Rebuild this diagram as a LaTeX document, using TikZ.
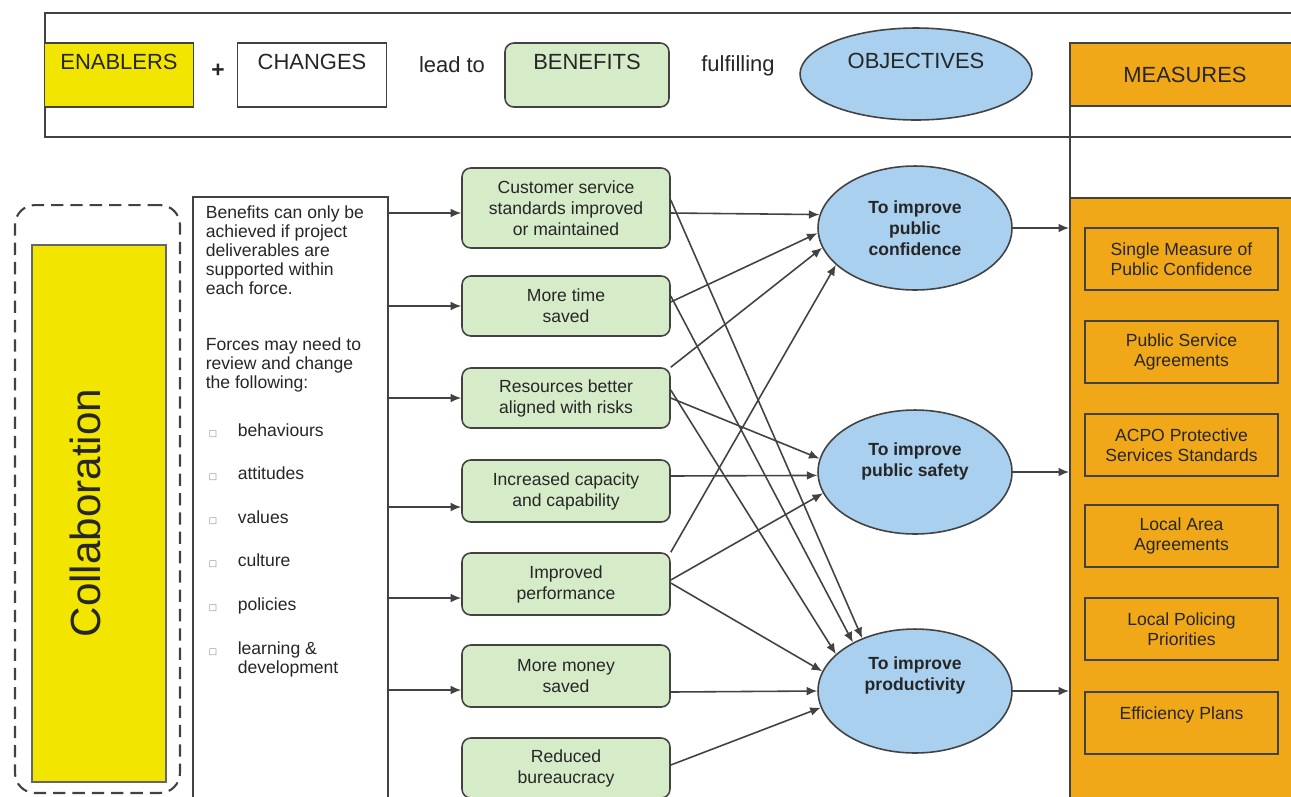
\documentclass[tikz,border=0pt]{standalone}
\usepackage{fontspec}
\setmainfont{Liberation Sans}
\newfontfamily\symfont{DejaVu Sans}
\usepackage{tikz}
\usetikzlibrary{positioning,shapes.geometric,arrows.meta,calc}
\usepackage{xcolor}
\definecolor{enabler}{HTML}{F2E500}
\definecolor{benefit}{HTML}{D6ECC9}
\definecolor{objective}{HTML}{A9D0EE}
\definecolor{measure}{HTML}{F0A818}
\definecolor{edgegrey}{HTML}{424242}
\newcommand{\bul}{\makebox[0.64cm][l]{\hspace*{0.06cm}{\color{gray}\symfont\tiny □}}}

\begin{document}
\begin{tikzpicture}[
    x=0.02cm, y=-0.02cm,
    >={Latex[length=6pt,width=5pt]},
    line width=0.9pt,
    every node/.style={font=\fontsize{10}{12}\selectfont, text=black!85},
    banner/.style={draw=edgegrey, minimum width=2.98cm, minimum height=1.28cm,
        align=center, font=\fontsize{12.5}{15}\selectfont},
    benefit/.style={draw=edgegrey, fill=benefit, rounded corners=5pt,
        minimum width=4.16cm, minimum height=1.2cm, align=center},
    objective/.style={ellipse, draw=edgegrey, fill=objective, inner sep=0pt,
        minimum width=3.88cm, minimum height=2.48cm, align=center,
        font=\fontsize{10}{12}\selectfont\bfseries},
    measure/.style={draw=edgegrey, minimum width=3.86cm, minimum height=1.24cm,
        align=center, font=\fontsize{10}{11.3}\selectfont},
    link/.style={->, color=edgegrey}
]
    \useasboundingbox (0,0) rectangle (1291,796);

    % key along the top
    \node[draw=edgegrey, line width=1.1pt, minimum width=25.1cm, minimum height=2.48cm,
        inner sep=0pt] (key) at (672.5,75) {};
    \node[banner, fill=enabler] (enablers) at (119,75) {ENABLERS\\\mbox{}};
    \node[font=\fontsize{13}{15}\selectfont\bfseries] (plus) at (218,71) {+};
    \node[banner] (changes) at (312,75) {CHANGES\\\mbox{}};
    \node[font=\fontsize{12.5}{15}\selectfont] (leadto) at (452,65) {lead to};
    \node[banner, fill=benefit, rounded corners=5pt, minimum width=3.28cm]
        (benefitskey) at (587,75) {BENEFITS\\\mbox{}};
    \node[font=\fontsize{12.5}{15}\selectfont] (fulfilling) at (738,66) {fulfilling};
    \node[objective, minimum width=4.64cm, minimum height=1.84cm,
        font=\fontsize{12.5}{15}\selectfont] (objkey) at (916,74) {OBJECTIVES\\\mbox{}};

    % measures column
    \node[draw=edgegrey, line width=1.1pt, minimum width=4.6cm, minimum height=15.34cm,
        inner sep=0pt] (mcol) at (1185,426.5) {};
    \node[draw=edgegrey, fill=measure, minimum width=4.6cm, minimum height=1.26cm,
        font=\fontsize{12.5}{13}\selectfont] (mhead) at (1185,74.5) {MEASURES\\\mbox{}};
    \node[draw=edgegrey, fill=measure, minimum width=4.6cm, minimum height=12.24cm]
        (mbody) at (1185,504) {};

    % collaboration
    \node[draw=edgegrey, dashed, dash pattern=on 7pt off 4pt, line width=1.2pt,
        rounded corners=0.4cm, minimum width=3.3cm, minimum height=11.76cm]
        (collabframe) at (97.5,499) {};
    \node[draw=black!60, fill=enabler, minimum width=2.68cm, minimum height=10.74cm]
        (collab) at (99,513.5) {};
    \node[rotate=90, font=\fontsize{24}{28}\selectfont] (collabtext) at (85,513)
        {Collaboration};

    % text box
    \node[draw=edgegrey, minimum width=3.9cm, minimum height=12.26cm] (tb) at (290.5,503.5) {};
    \node[anchor=north west, inner sep=0pt, align=left,
        font=\fontsize{10}{10.8}\selectfont] (tbtext) at (205,205)
        {Benefits can only be\\ achieved if project\\ deliverables are\\
         supported within\\ each force.\\[21pt]
         Forces may need to\\ review and change\\ the following:\\[16.5pt]
         \bul behaviours\\[14pt] \bul attitudes\\[14pt] \bul values\\[14pt]
         \bul culture\\[14pt] \bul policies\\[14pt]
         \bul learning \&\\ \hspace*{0.64cm}development};

    % benefits
    \node[benefit, minimum height=1.6cm] (b1) at (566,208)
        {Customer service\\standards improved\\or maintained};
    \node[benefit] (b2) at (566,306) {More time\\saved};
    \node[benefit] (b3) at (566,398) {Resources better\\aligned with risks};
    \node[benefit, minimum height=1.24cm] (b4) at (566,491) {Increased capacity\\and capability};
    \node[benefit, minimum height=1.24cm] (b5) at (566,584) {Improved\\performance};
    \node[benefit, minimum height=1.24cm] (b6) at (566,676) {More money\\saved};
    \node[benefit] (b7) at (566,768) {Reduced\\bureaucracy};

    % objectives
    \node[objective] (e1) at (915,228) {To improve\\public\\confidence};
    \node[objective] (e2) at (915,472) {To improve\\public safety\\[2pt]\mbox{}};
    \node[objective] (e3) at (915,691) {To improve\\productivity\\[8pt]\mbox{}};

    % measures
    \node[measure] (m1) at (1181.5,259) {Single Measure of\\Public Confidence};
    \node[measure] (m2) at (1181.5,352) {Public Service\\Agreements};
    \node[measure] (m3) at (1181.5,445) {ACPO Protective\\Services Standards};
    \node[measure] (m4) at (1181.5,536) {Local Area\\Agreements};
    \node[measure] (m5) at (1181.5,629) {Local Policing\\Priorities};
    \node[measure] (m6) at (1181.5,723) {Efficiency Plans\\\mbox{}};

    % into the benefits
    \coordinate (b1in) at ($(b1.west)+(0,5)$);
    \coordinate (b4in) at ($(b4.west)+(0,16)$);
    \coordinate (b5in) at ($(b5.west)+(0,14)$);
    \coordinate (b6in) at ($(b6.west)+(0,14)$);
    \path[link]
        (b1in -| tb.east) edge (b1in)
        (b2.west -| tb.east) edge (b2.west)
        (b3.west -| tb.east) edge (b3.west)
        (b4in -| tb.east) edge (b4in)
        (b5in -| tb.east) edge (b5in)
        (b6in -| tb.east) edge (b6in);

    % benefits to objectives
    \path[link]
        ($(b1.east)+(0,5)$) edge (e1.172)
        ($(b1.east)+(0,-8)$) edge (e3.135)
        ($(b2.east)+(0,-4)$) edge (e1.183)
        ($(b2.east)+(0,-10)$) edge (e3.142)
        (b3.north east) edge (e1.192)
        (b3.east) edge (e2.172)
        ($(b3.east)+(0,-8)$) edge (e3.155)
        ($(b4.east)+(0,-15)$) edge (e2.182)
        (b5.north east) edge (e1.205)
        ($(b5.east)+(0,-4)$) edge (e2.193)
        ($(b5.east)+(0,-1)$) edge (e3.168)
        ($(b6.east)+(0,16)$) edge (e3.180)
        ($(b7.east)+(0,-3)$) edge (e3.190);

    % objectives to measures
    \path[link]
        (e1.east) edge (e1.east -| mcol.west)
        (e2.east) edge (e2.east -| mcol.west)
        (e3.east) edge (e3.east -| mcol.west);
\end{tikzpicture}
\end{document}
